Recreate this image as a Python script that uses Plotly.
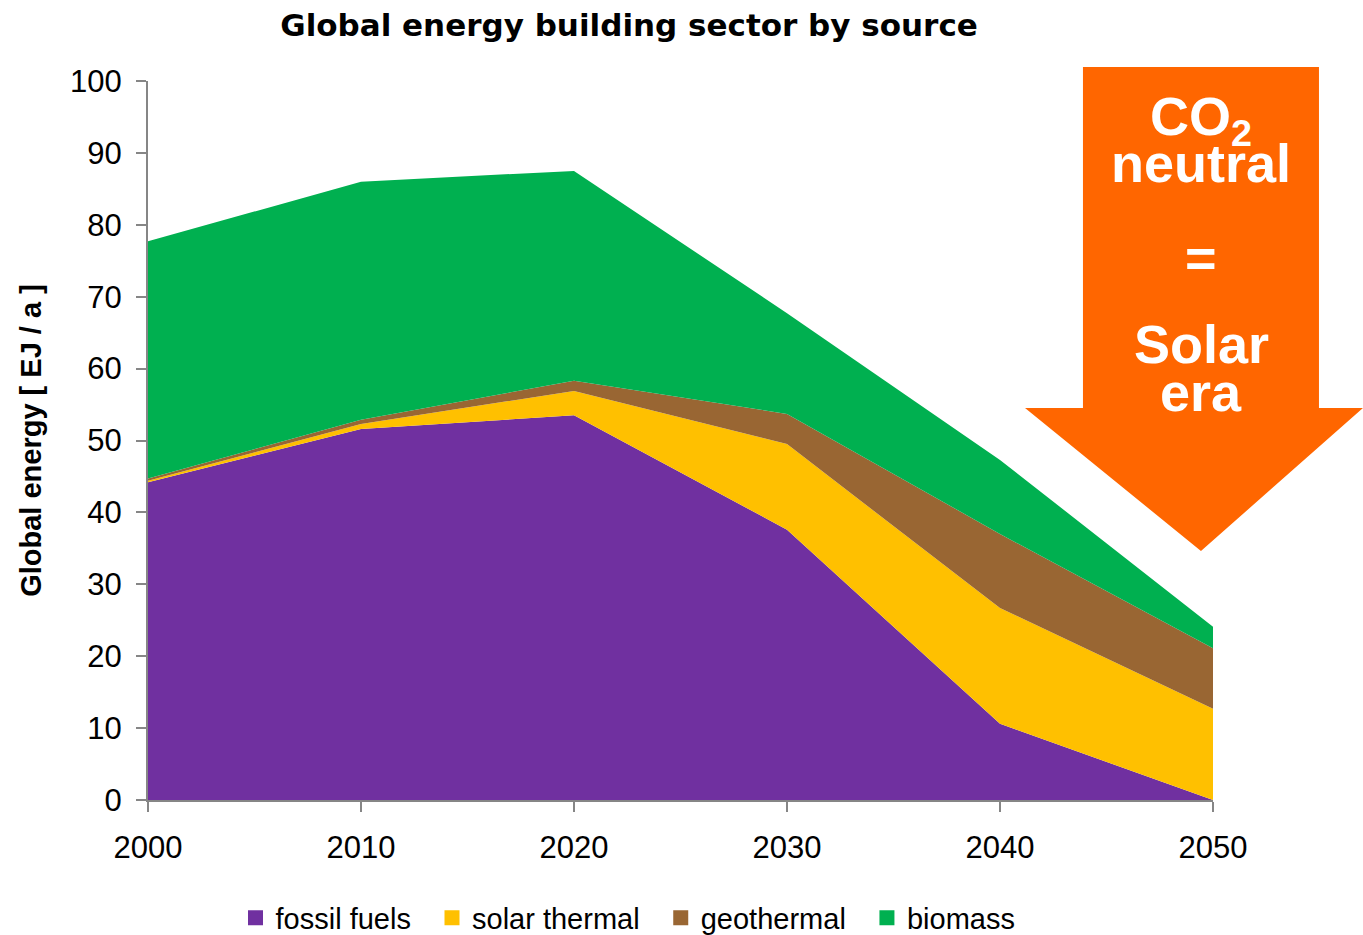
import plotly.graph_objects as go

# Global energy use in the building sector, EJ per year
years = [2000, 2010, 2020, 2030, 2040, 2050]
fossil_fuels = [44.2, 51.6, 53.5, 37.6, 10.6, 0.0]
solar_thermal = [0.2, 0.7, 3.4, 11.9, 16.1, 12.7]
geothermal = [0.3, 0.6, 1.4, 4.2, 10.3, 8.4]
biomass = [33.0, 33.1, 29.2, 14.0, 10.3, 3.0]

series = [
    ("fossil fuels", fossil_fuels, "#7030A0"),
    ("solar thermal", solar_thermal, "#FFC000"),
    ("geothermal", geothermal, "#996633"),
    ("biomass", biomass, "#00B050"),
]

fig = go.Figure()
for name, vals, col in series:
    fig.add_trace(go.Scatter(
        x=years, y=vals, name=name, mode="lines",
        stackgroup="energy", line=dict(width=0, color=col),
        fillcolor=col, showlegend=False, legendgroup=name,
    ))
# square swatches for the legend (padded names widen the gaps between entries)
for i, (name, vals, col) in enumerate(series):
    pad = "" if i == len(series) - 1 else "\u00a0\u00a0"
    fig.add_trace(go.Scatter(
        x=[None], y=[None], name=name + pad, mode="markers", legendgroup=name,
        marker=dict(symbol="square", size=15, color=col),
    ))

font_family = "Liberation Sans, Arial, sans-serif"
axis_gray = "#868686"

fig.update_layout(
    width=1363, height=935,
    margin=dict(l=148, r=150, t=81, b=135, autoexpand=False),
    paper_bgcolor="white", plot_bgcolor="white",
    font=dict(family=font_family, color="black"),
    showlegend=True,
    title=dict(
        text="<b>Global energy building sector by source</b>",
        x=629 / 1363, xref="container", xanchor="center",
        y=1 - 25 / 935, yref="container", yanchor="middle",
        font=dict(size=31, color="black", family="DejaVu Sans, sans-serif"),
    ),
    legend=dict(
        orientation="h", x=(628 - 148) / 1065, xanchor="center",
        y=(800 - 918) / 719, yanchor="middle",
        font=dict(size=29), itemwidth=30, traceorder="normal",
    ),
    xaxis=dict(
        range=[2000, 2050], tickvals=years, ticktext=[str(y) for y in years],
        showgrid=False, zeroline=False,
        showline=True, linecolor=axis_gray, linewidth=2,
        ticks="outside", ticklen=10, tickcolor=axis_gray, tickwidth=2,
        tickfont=dict(size=31), ticklabelstandoff=9,
    ),
    yaxis=dict(
        range=[0, 100], tickvals=list(range(0, 101, 10)),
        showgrid=False, zeroline=False,
        showline=True, linecolor=axis_gray, linewidth=2,
        ticks="outside", ticklen=10, tickcolor=axis_gray, tickwidth=2,
        tickfont=dict(size=31), ticklabelstandoff=8,
        title=dict(text="<b>Global energy [ EJ / a ]</b>", font=dict(size=29), standoff=20),
    ),
)

# Orange arrow pointing down towards 2050
px_x = lambda p: (p - 148) / 1065
px_y = lambda p: (800 - p) / 719
pts = [(1083, 67), (1319, 67), (1319, 408), (1363, 408), (1201, 551),
       (1025, 408), (1083, 408)]
path = "M " + " L ".join(f"{px_x(x):.4f},{px_y(y):.4f}" for x, y in pts) + " Z"
fig.add_shape(type="path", path=path, xref="paper", yref="paper",
              fillcolor="#FF6600", line=dict(width=0), layer="above")

arrow_text = [
    ("CO<sub>2</sub>", 120),
    ("neutral", 163),
    ("=", 258),
    ("Solar", 344),
    ("era", 392),
]
for txt, ypx in arrow_text:
    fig.add_annotation(
        text=f"<b>{txt}</b>", xref="paper", yref="paper",
        x=px_x(1201), y=px_y(ypx), xanchor="center", yanchor="middle",
        showarrow=False, font=dict(size=54, color="white", family=font_family),
    )

fig.write_html("out.html")
